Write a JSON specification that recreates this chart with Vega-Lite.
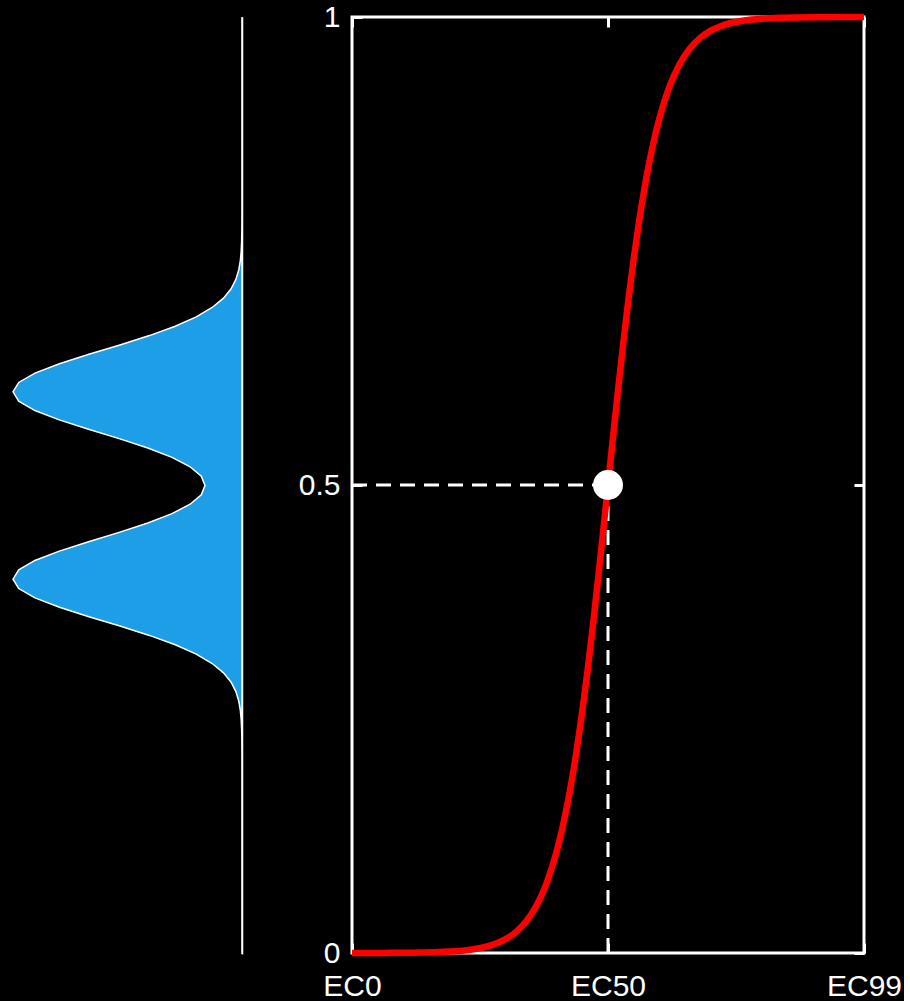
{
  "$schema": "https://vega.github.io/schema/vega-lite/v6.json",
  "background": "black",
  "padding": {"left": 0, "top": 0, "right": 0, "bottom": 0},
  "config": {
    "font": "Liberation Sans",
    "axis": {
      "labelColor": "white",
      "labelFont": "Liberation Sans",
      "labelFontSize": 30,
      "tickColor": "white",
      "tickWidth": 3,
      "tickSize": -10,
      "domain": false,
      "grid": false,
      "title": null,
      "labelFlush": false,
      "labelOverlap": false,
      "labelBound": false
    }
  },
  "datasets": {
    "spread": [
      {"response": 0.0, "density": 0},
      {"response": 0.15, "density": 0},
      {"response": 0.2, "density": 0.00004},
      {"response": 0.21, "density": 0.00011},
      {"response": 0.22, "density": 0.00029},
      {"response": 0.23, "density": 0.0007},
      {"response": 0.24, "density": 0.0016},
      {"response": 0.25, "density": 0.0035},
      {"response": 0.26, "density": 0.0072},
      {"response": 0.27, "density": 0.0142},
      {"response": 0.28, "density": 0.0267},
      {"response": 0.29, "density": 0.0476},
      {"response": 0.3, "density": 0.0808},
      {"response": 0.31, "density": 0.1303},
      {"response": 0.32, "density": 0.1999},
      {"response": 0.33, "density": 0.2915},
      {"response": 0.34, "density": 0.4042},
      {"response": 0.35, "density": 0.5332},
      {"response": 0.36, "density": 0.6687},
      {"response": 0.37, "density": 0.7974},
      {"response": 0.38, "density": 0.9043},
      {"response": 0.39, "density": 0.9752},
      {"response": 0.4, "density": 1.0},
      {"response": 0.41, "density": 0.9753},
      {"response": 0.42, "density": 0.9046},
      {"response": 0.43, "density": 0.7981},
      {"response": 0.44, "density": 0.6703},
      {"response": 0.45, "density": 0.5367},
      {"response": 0.46, "density": 0.4114},
      {"response": 0.47, "density": 0.3057},
      {"response": 0.48, "density": 0.2266},
      {"response": 0.49, "density": 0.1779},
      {"response": 0.5, "density": 0.1616},
      {"response": 0.51, "density": 0.1779},
      {"response": 0.52, "density": 0.2266},
      {"response": 0.53, "density": 0.3057},
      {"response": 0.54, "density": 0.4114},
      {"response": 0.55, "density": 0.5367},
      {"response": 0.56, "density": 0.6703},
      {"response": 0.57, "density": 0.7981},
      {"response": 0.58, "density": 0.9046},
      {"response": 0.59, "density": 0.9753},
      {"response": 0.6, "density": 1.0},
      {"response": 0.61, "density": 0.9752},
      {"response": 0.62, "density": 0.9043},
      {"response": 0.63, "density": 0.7974},
      {"response": 0.64, "density": 0.6687},
      {"response": 0.65, "density": 0.5332},
      {"response": 0.66, "density": 0.4042},
      {"response": 0.67, "density": 0.2915},
      {"response": 0.68, "density": 0.1999},
      {"response": 0.69, "density": 0.1303},
      {"response": 0.7, "density": 0.0808},
      {"response": 0.71, "density": 0.0476},
      {"response": 0.72, "density": 0.0267},
      {"response": 0.73, "density": 0.0142},
      {"response": 0.74, "density": 0.0072},
      {"response": 0.75, "density": 0.0035},
      {"response": 0.76, "density": 0.0016},
      {"response": 0.77, "density": 0.0007},
      {"response": 0.78, "density": 0.0003},
      {"response": 0.79, "density": 0.0001},
      {"response": 0.8, "density": 0.00004},
      {"response": 0.85, "density": 0},
      {"response": 1.0, "density": 0}
    ],
    "curve": [
      {"dose": 0.0, "response": 0.00003},
      {"dose": 0.06, "response": 0.0001},
      {"dose": 0.1, "response": 0.00022},
      {"dose": 0.12, "response": 0.00034},
      {"dose": 0.14, "response": 0.00052},
      {"dose": 0.16, "response": 0.00079},
      {"dose": 0.18, "response": 0.00121},
      {"dose": 0.2, "response": 0.00183},
      {"dose": 0.22, "response": 0.00278},
      {"dose": 0.24, "response": 0.00423},
      {"dose": 0.26, "response": 0.00643},
      {"dose": 0.28, "response": 0.0098},
      {"dose": 0.3, "response": 0.0148},
      {"dose": 0.32, "response": 0.0223},
      {"dose": 0.34, "response": 0.0336},
      {"dose": 0.36, "response": 0.0502},
      {"dose": 0.38, "response": 0.0745},
      {"dose": 0.4, "response": 0.1091},
      {"dose": 0.41, "response": 0.1313},
      {"dose": 0.42, "response": 0.1571},
      {"dose": 0.43, "response": 0.1869},
      {"dose": 0.44, "response": 0.221},
      {"dose": 0.45, "response": 0.2592},
      {"dose": 0.46, "response": 0.3015},
      {"dose": 0.47, "response": 0.3475},
      {"dose": 0.48, "response": 0.3965},
      {"dose": 0.49, "response": 0.4477},
      {"dose": 0.5, "response": 0.5},
      {"dose": 0.51, "response": 0.5523},
      {"dose": 0.52, "response": 0.6035},
      {"dose": 0.53, "response": 0.6525},
      {"dose": 0.54, "response": 0.6985},
      {"dose": 0.55, "response": 0.7408},
      {"dose": 0.56, "response": 0.779},
      {"dose": 0.57, "response": 0.8131},
      {"dose": 0.58, "response": 0.8429},
      {"dose": 0.59, "response": 0.8687},
      {"dose": 0.6, "response": 0.8909},
      {"dose": 0.62, "response": 0.9255},
      {"dose": 0.64, "response": 0.9498},
      {"dose": 0.66, "response": 0.9664},
      {"dose": 0.68, "response": 0.9777},
      {"dose": 0.7, "response": 0.9852},
      {"dose": 0.72, "response": 0.9902},
      {"dose": 0.74, "response": 0.99357},
      {"dose": 0.76, "response": 0.99577},
      {"dose": 0.78, "response": 0.99722},
      {"dose": 0.8, "response": 0.99817},
      {"dose": 0.84, "response": 0.99921},
      {"dose": 0.9, "response": 0.99978},
      {"dose": 1.0, "response": 0.99997}
    ],
    "ec50": [
      {"dose": 0.5, "response": 0.5}
    ],
    "guides": [
      {"dose": 0.0, "dose2": 0.5, "response": 0.5, "response2": 0.5},
      {"dose": 0.5, "dose2": 0.5, "response": 0.0, "response2": 0.5}
    ]
  },
  "spacing": 51,
  "hconcat": [
    {
      "width": 242,
      "height": 937,
      "view": {"stroke": null},
      "data": {"name": "spread"},
      "mark": {"type": "area", "orient": "horizontal", "fill": "#1f9ee8", "stroke": "white", "strokeWidth": 1.5, "fillOpacity": 1},
      "encoding": {
        "y": {
          "field": "response",
          "type": "quantitative",
          "scale": {"domain": [0, 1], "nice": false},
          "axis": {"orient": "right", "labels": false, "ticks": false, "domain": true, "domainColor": "white", "domainWidth": 1.5}
        },
        "x": {
          "field": "density",
          "type": "quantitative",
          "scale": {"domain": [0, 1.057], "reverse": true, "nice": false},
          "axis": null
        }
      }
    },
    {
      "width": 512,
      "height": 936,
      "view": {"stroke": "white", "strokeWidth": 3},
      "resolve": {"axis": {"x": "independent", "y": "independent"}},
      "layer": [
        {
          "data": {"name": "guides"},
          "mark": {"type": "rule", "color": "white", "strokeWidth": 3, "strokeDash": [15, 9]},
          "encoding": {
            "x": {"field": "dose", "type": "quantitative", "scale": {"domain": [0, 1], "nice": false}, "axis": null},
            "x2": {"field": "dose2"},
            "y": {"field": "response", "type": "quantitative", "scale": {"domain": [0, 1], "nice": false}, "axis": null},
            "y2": {"field": "response2"}
          }
        },
        {
          "data": {"name": "curve"},
          "mark": {"type": "line", "color": "#ff0000", "strokeWidth": 6.5, "interpolate": "monotone"},
          "encoding": {
            "x": {
              "field": "dose",
              "type": "quantitative",
              "scale": {"domain": [0, 1], "nice": false},
              "axis": {
                "orient": "bottom",
                "values": [0, 0.5, 1],
                "labelExpr": "datum.value == 0 ? 'EC0' : datum.value == 0.5 ? 'EC50' : 'EC99'",
                "labelPadding": 28
              }
            },
            "y": {
              "field": "response",
              "type": "quantitative",
              "scale": {"domain": [0, 1], "nice": false},
              "axis": {
                "orient": "left",
                "values": [0, 0.5, 1],
                "labelExpr": "datum.value == 0.5 ? '0.5' : datum.value == 1 ? '1' : '0'",
                "labelPadding": 22
              }
            }
          }
        },
        {
          "data": {"name": "ec50"},
          "mark": {"type": "point", "shape": "circle", "filled": true, "color": "white", "opacity": 1, "size": 900, "strokeWidth": 0},
          "encoding": {
            "x": {
              "field": "dose",
              "type": "quantitative",
              "scale": {"domain": [0, 1], "nice": false},
              "axis": {"orient": "top", "values": [0, 0.5, 1], "labels": false}
            },
            "y": {
              "field": "response",
              "type": "quantitative",
              "scale": {"domain": [0, 1], "nice": false},
              "axis": {"orient": "right", "values": [0, 0.5, 1], "labels": false}
            }
          }
        }
      ]
    }
  ]
}
